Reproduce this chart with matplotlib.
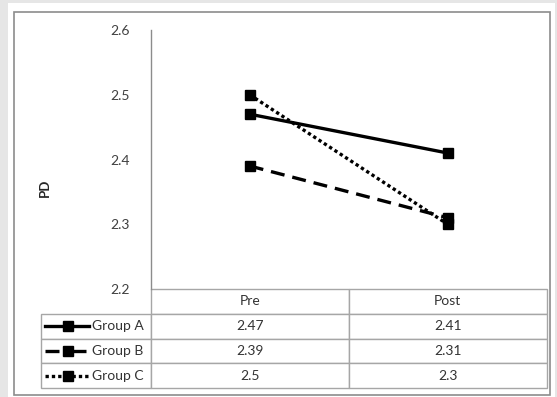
import numpy as np
import matplotlib as mpl
mpl.use('Agg')
import matplotlib.pyplot as plt
from matplotlib.lines import Line2D
from matplotlib.patches import Rectangle

plt.rcParams['font.family'] = ['Lato', 'DejaVu Sans']

# values per group at each time point
timepoints = ['Pre', 'Post']
groups = ['Group A', 'Group B', 'Group C']
group_a = [2.47, 2.41]
group_b = [2.39, 2.31]
group_c = [2.5, 2.3]
yticks = [2.2, 2.3, 2.4, 2.5, 2.6]

W, H = 557, 397
fig = plt.figure(figsize=(W / 100, H / 100), dpi=100)
fig.patch.set_facecolor('#e6e6e6')

def fx(px):
    return px / W

def fy(py):
    return 1 - py / H

# white card + thin grey frame round the chart
fig.add_artist(Rectangle((fx(8), fy(397)), fx(547), 394 / H, transform=fig.transFigure,
                         facecolor='white', edgecolor='none', zorder=0))
fig.add_artist(Rectangle((fx(14), fy(395)), fx(536), 383 / H, transform=fig.transFigure,
                         facecolor='none', edgecolor='#8c8c8c', lw=1.2, zorder=1))

ax_l, ax_r, ax_t, ax_b = 150.7, 546.7, 30, 289
ax = fig.add_axes([fx(ax_l), fy(ax_b), fx(ax_r - ax_l), (ax_b - ax_t) / H])
ax.set_facecolor('none')

lw = 2.4
styles = [
    dict(ls='-'),
    dict(ls=(0, (4.2, 2.4))),
    dict(ls=(0, (1, 0.9))),
]
series = [group_a, group_b, group_c]
x = np.arange(len(timepoints))
for vals, st in zip(series, styles):
    ax.plot(x, vals, color='black', lw=lw, marker='s', markersize=7.3,
            markerfacecolor='black', markeredgecolor='black', **st)

ax.set_xlim(-0.5, 1.5)
ax.set_ylim(2.2, 2.6)
ax.set_yticks(yticks)
ax.set_yticklabels([str(v) for v in yticks], fontsize=10, color='#404040')
ax.tick_params(axis='y', length=0, pad=15)
ax.set_xticks([])
for s in ['top', 'right', 'bottom']:
    ax.spines[s].set_visible(False)
ax.spines['left'].set_color('#8c8c8c')
ax.spines['left'].set_linewidth(1)
fig.text(fx(45), fy(188), 'PD', fontsize=9.5, fontweight='bold', color='#262626',
         rotation=90, ha='center', va='center')

# data table under the axes, first column holds the legend keys
row_px = 24.75
row_h = row_px / (ax_b - ax_t)
label_w = (ax_l - 40.7) / (ax_r - ax_l)
cell_text = [[''] + [str(v) for v in vals] for vals in series]
tbl = ax.table(cellText=cell_text, colLabels=[''] + timepoints,
               colWidths=[label_w, 0.5, 0.5], cellLoc='center',
               bbox=[-label_w, -4 * row_h, 1 + label_w, 4 * row_h])
tbl.auto_set_font_size(False)
tbl.set_fontsize(10)
for (r, c), cell in tbl.get_celld().items():
    cell.set_edgecolor('#a6a6a6')
    cell.set_linewidth(1)
    cell.get_text().set_color('#333333')
    if r == 0 and c == 0:
        cell.visible_edges = ''

# legend keys inside the first column
for i, (name, st) in enumerate(zip(groups, styles)):
    yc = fy(ax_b + row_px * (i + 1.5))
    fig.add_artist(Line2D([fx(45), fx(64)], [yc, yc], color='black', lw=lw,
                          transform=fig.transFigure, **st))
    fig.add_artist(Line2D([fx(72), fx(89)], [yc, yc], color='black', lw=lw,
                          transform=fig.transFigure, **st))
    fig.add_artist(Line2D([fx(68)], [yc], marker='s', markersize=7.3, color='black',
                          transform=fig.transFigure))
    fig.text(fx(92), yc, name, fontsize=10, color='#333333', va='center', ha='left')

fig.savefig('out.png', dpi=100, facecolor=fig.get_facecolor())
